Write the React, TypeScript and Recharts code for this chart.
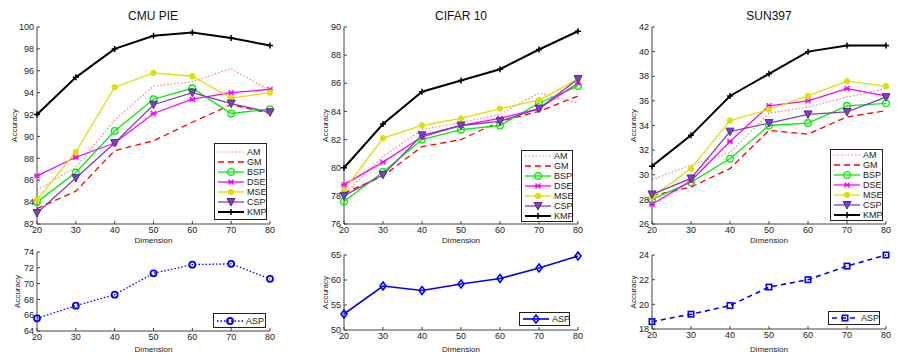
import { LineChart, Line, XAxis, YAxis, Label } from "recharts";

const dims = [20, 30, 40, 50, 60, 70, 80];
const xTicks = [20, 30, 40, 50, 60, 70, 80];

// CMU PIE
const cmuAM = [85.1, 87.2, 91.5, 94.6, 95.0, 96.2, 94.2];
const cmuGM = [83.4, 85.0, 88.7, 89.6, 91.3, 92.9, 92.1];
const cmuBSP = [84.0, 86.7, 90.5, 93.4, 94.4, 92.1, 92.5];
const cmuDSE = [86.4, 88.1, 89.4, 92.1, 93.4, 94.0, 94.3];
const cmuMSE = [84.2, 88.6, 94.5, 95.8, 95.5, 93.5, 94.0];
const cmuCSP = [83.0, 86.2, 89.4, 92.9, 94.0, 93.0, 92.2];
const cmuKMP = [92.0, 95.4, 98.0, 99.2, 99.5, 99.0, 98.3];
const cmuASP = [65.6, 67.2, 68.6, 71.3, 72.4, 72.5, 70.6];

// CIFAR 10
const cifAM = [78.1, 80.8, 82.7, 83.2, 83.8, 85.3, 84.6];
const cifGM = [78.2, 79.4, 81.5, 82.0, 83.3, 84.0, 85.1];
const cifBSP = [77.6, 79.7, 82.0, 82.7, 83.0, 84.6, 85.8];
const cifDSE = [78.8, 80.4, 82.2, 83.0, 83.5, 84.2, 86.0];
const cifMSE = [78.4, 82.1, 83.0, 83.5, 84.2, 84.8, 86.3];
const cifCSP = [78.0, 79.5, 82.3, 83.0, 83.3, 84.2, 86.3];
const cifKMP = [80.0, 83.1, 85.4, 86.2, 87.0, 88.4, 89.7];
const cifASP = [53.2, 58.8, 57.9, 59.2, 60.3, 62.4, 64.8];

// SUN397
const sunAM = [29.6, 30.8, 31.8, 35.0, 35.5, 36.3, 37.0];
const sunGM = [28.3, 29.0, 30.5, 33.6, 33.3, 34.7, 35.2];
const sunBSP = [28.0, 29.4, 31.3, 34.0, 34.2, 35.6, 35.8];
const sunDSE = [27.6, 29.5, 32.7, 35.6, 36.0, 37.0, 36.4];
const sunMSE = [28.2, 30.5, 34.4, 35.3, 36.4, 37.6, 37.2];
const sunCSP = [28.4, 29.7, 33.5, 34.2, 34.9, 35.1, 36.3];
const sunKMP = [30.7, 33.2, 36.4, 38.2, 40.0, 40.5, 40.5];
const sunASP = [18.6, 19.2, 19.9, 21.4, 22.0, 23.1, 24.0];

const FONT = "'Liberation Sans', Arial, sans-serif";

type S = { key: string; color: string; dash?: string; width: number; mk: string };

const topSeries: S[] = [
  { key: "AM", color: "#ff8080", dash: "1.5 2", width: 1.2, mk: "none" },
  { key: "GM", color: "#ff0000", dash: "6 4", width: 1.3, mk: "none" },
  { key: "BSP", color: "#00ee00", width: 1.3, mk: "circle" },
  { key: "DSE", color: "#ff00ff", width: 1.3, mk: "x" },
  { key: "MSE", color: "#e0e000", width: 1.3, mk: "fcircle" },
  { key: "CSP", color: "#7f3fbf", width: 1.3, mk: "tri" },
  { key: "KMP", color: "#000000", width: 2, mk: "plus" },
];

function rows(cols: Record<string, number[]>) {
  return dims.map((d, i) => {
    const r: Record<string, number> = { dim: d };
    Object.keys(cols).forEach((k) => (r[k] = cols[k][i]));
    return r;
  });
}

function drawMarker(kind: string, color: string, cx: number, cy: number, key?: string) {
  switch (kind) {
    case "circle":
      return <circle key={key} cx={cx} cy={cy} r={3.3} fill="none" stroke={color} strokeWidth={1.3} />;
    case "bcircle":
      return <circle key={key} cx={cx} cy={cy} r={3} fill="none" stroke={color} strokeWidth={1.8} />;
    case "fcircle":
      return <circle key={key} cx={cx} cy={cy} r={2.7} fill={color} stroke={color} />;
    case "x":
      return (
        <path key={key} d={`M${cx - 2.5},${cy - 2.5}L${cx + 2.5},${cy + 2.5}M${cx - 2.5},${cy + 2.5}L${cx + 2.5},${cy - 2.5}M${cx - 3},${cy}L${cx + 3},${cy}`} stroke={color} strokeWidth={1.3} />
      );
    case "tri":
      return (
        <path key={key} d={`M${cx - 4},${cy - 3.5}L${cx + 4},${cy - 3.5}L${cx},${cy + 4}Z`} fill={color} stroke="#5a2a90" strokeWidth={1} />
      );
    case "plus":
      return <path key={key} d={`M${cx - 3},${cy}L${cx + 3},${cy}M${cx},${cy - 3}L${cx},${cy + 3}`} stroke={color} strokeWidth={1.5} />;
    case "diamond":
      return (
        <path key={key} d={`M${cx},${cy - 4}L${cx + 3},${cy}L${cx},${cy + 4}L${cx - 3},${cy}Z`} fill="none" stroke={color} strokeWidth={1.6} />
      );
    case "square":
      return <rect key={key} x={cx - 2.7} y={cy - 2.7} width={5.4} height={5.4} fill="none" stroke={color} strokeWidth={1.6} />;
    default:
      return <g key={key} />;
  }
}

type PanelProps = {
  left: number;
  top: number;
  width: number;
  height: number;
  mTop: number;
  mRight: number;
  yWidth: number;
  xHeight: number;
  data: Record<string, number>[];
  series: S[];
  domain: [number, number];
  yTicks: number[];
  yLabelDx: number;
  xLabelOffset: number;
};

function Panel(p: PanelProps) {
  const tickStyle = { fontSize: 9, fill: "#222", fontFamily: FONT };
  return (
    <div style={{ position: "absolute", left: p.left, top: p.top }}>
      <LineChart width={p.width} height={p.height} data={p.data} margin={{ top: p.mTop, right: p.mRight, left: 0, bottom: 0 }}>
        <XAxis
          dataKey="dim"
          type="number"
          domain={[20, 80]}
          ticks={xTicks}
          height={p.xHeight}
          stroke="#444"
          tick={tickStyle}
          tickSize={-3}
          tickMargin={6}
        >
          <Label value="Dimension" position="insideBottom" offset={p.xLabelOffset} style={{ fontSize: 8, fill: "#222", fontFamily: FONT }} />
        </XAxis>
        <YAxis
          type="number"
          domain={p.domain}
          ticks={p.yTicks}
          width={p.yWidth}
          stroke="#444"
          tick={tickStyle}
          tickSize={-3}
          tickMargin={6}
          interval={0}
        >
          <Label value="Accuracy" angle={-90} position="center" dx={p.yLabelDx} style={{ fontSize: 8, fill: "#222", fontFamily: FONT }} />
        </YAxis>
        {p.series.map((s) => (
          <Line
            key={s.key}
            dataKey={s.key}
            type="linear"
            stroke={s.color}
            strokeWidth={s.width}
            strokeDasharray={s.dash}
            isAnimationActive={false}
            dot={(d: any) => drawMarker(s.mk, s.color, d.cx, d.cy, `${s.key}-${d.index}`)}
            activeDot={false}
          />
        ))}
      </LineChart>
    </div>
  );
}

function LegendBox({ x, y, w, h, items }: { x: number; y: number; w: number; h: number; items: S[] }) {
  return (
    <div
      style={{
        position: "absolute",
        left: x,
        top: y,
        width: w,
        height: h,
        boxSizing: "border-box",
        border: "1px solid #222",
        background: "#fff",
        display: "flex",
        flexDirection: "column",
        justifyContent: "center",
        paddingLeft: 2,
        fontFamily: FONT,
        fontSize: 9,
        color: "#222",
      }}
    >
      {items.map((s) => (
        <div key={s.key} style={{ display: "flex", alignItems: "center", height: 10 }}>
          <svg width={29} height={10} style={{ flex: "none" }}>
            <line x1={1} y1={5} x2={27} y2={5} stroke={s.color} strokeWidth={s.width} strokeDasharray={s.dash} />
            {drawMarker(s.mk, s.color, 14, 5)}
          </svg>
          <span style={{ marginLeft: 1, lineHeight: "10px" }}>{s.key}</span>
        </div>
      ))}
    </div>
  );
}

function Title({ x, text }: { x: number; text: string }) {
  return (
    <div style={{ position: "absolute", left: x - 60, top: 9, width: 120, textAlign: "center", fontFamily: FONT, fontSize: 12, color: "#111" }}>
      {text}
    </div>
  );
}

const aspCmu: S = { key: "ASP", color: "#0000ff", dash: "1.5 2", width: 1.3, mk: "bcircle" };
const aspCif: S = { key: "ASP", color: "#0000ff", width: 1.6, mk: "diamond" };
const aspSun: S = { key: "ASP", color: "#0000ff", dash: "5 4", width: 1.6, mk: "square" };

export default function App() {
  const cmuTop = rows({ AM: cmuAM, GM: cmuGM, BSP: cmuBSP, DSE: cmuDSE, MSE: cmuMSE, CSP: cmuCSP, KMP: cmuKMP });
  const cifTop = rows({ AM: cifAM, GM: cifGM, BSP: cifBSP, DSE: cifDSE, MSE: cifMSE, CSP: cifCSP, KMP: cifKMP });
  const sunTop = rows({ AM: sunAM, GM: sunGM, BSP: sunBSP, DSE: sunDSE, MSE: sunMSE, CSP: sunCSP, KMP: sunKMP });

  return (
    <div style={{ position: "absolute", left: 0, top: 0, width: 904, height: 364, background: "#fff", overflow: "hidden" }}>
      <Title x={153} text="CMU PIE" />
      <Title x={461} text="CIFAR 10" />
      <Title x={769} text="SUN397" />

      <Panel left={0} top={0} width={290} height={251} mTop={27} mRight={20} yWidth={37} xHeight={27}
        data={cmuTop} series={topSeries} domain={[82, 100]} yTicks={[82, 84, 86, 88, 90, 92, 94, 96, 98, 100]} yLabelDx={-4.5} xLabelOffset={8} />
      <Panel left={300} top={0} width={300} height={251} mTop={27} mRight={22} yWidth={44} xHeight={27}
        data={cifTop} series={topSeries} domain={[76, 90]} yTicks={[76, 78, 80, 82, 84, 86, 88, 90]} yLabelDx={3} xLabelOffset={8} />
      <Panel left={600} top={0} width={304} height={251} mTop={27} mRight={18} yWidth={52} xHeight={27}
        data={sunTop} series={topSeries} domain={[26, 42]} yTicks={[26, 28, 30, 32, 34, 36, 38, 40, 42]} yLabelDx={7} xLabelOffset={8} />

      <Panel left={0} top={240} width={290} height={124} mTop={12} mRight={20} yWidth={37} xHeight={33}
        data={rows({ ASP: cmuASP })} series={[aspCmu]} domain={[64, 74]} yTicks={[64, 66, 68, 70, 72, 74]} yLabelDx={-1.5} xLabelOffset={12} />
      <Panel left={300} top={240} width={300} height={124} mTop={15} mRight={22} yWidth={44} xHeight={34}
        data={rows({ ASP: cifASP })} series={[aspCif]} domain={[50, 65]} yTicks={[50, 55, 60, 65]} yLabelDx={3} xLabelOffset={12} />
      <Panel left={600} top={240} width={304} height={124} mTop={15} mRight={18} yWidth={52} xHeight={35}
        data={rows({ ASP: sunASP })} series={[aspSun]} domain={[18, 24]} yTicks={[18, 20, 22, 24]} yLabelDx={7} xLabelOffset={12} />

      <LegendBox x={214} y={143} w={53} h={77} items={topSeries} />
      <LegendBox x={521} y={150} w={52} h={72} items={topSeries} />
      <LegendBox x={830} y={149} w={53} h={72} items={topSeries} />

      <LegendBox x={213} y={313} w={53} h={15} items={[aspCmu]} />
      <LegendBox x={519} y={312} w={51} h={14} items={[aspCif]} />
      <LegendBox x={828} y={311} w={52} h={14} items={[aspSun]} />
    </div>
  );
}
